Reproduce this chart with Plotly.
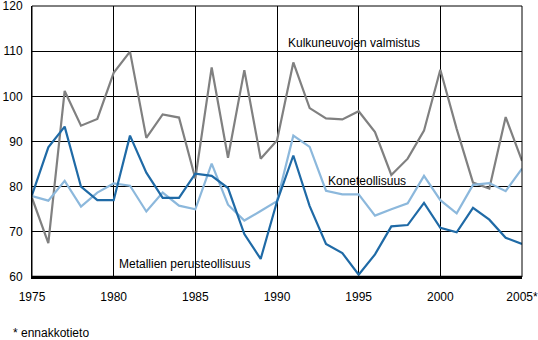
import plotly.graph_objects as go

years = list(range(1975, 2006))
kulkuneuvot = [77.5, 67.5, 101.2, 93.5, 95.0, 105.2, 109.9, 90.8, 96.0, 95.3,
               81.8, 106.4, 86.4, 105.8, 86.2, 90.2, 107.5, 97.4, 95.1, 94.9,
               96.7, 92.1, 82.6, 86.2, 92.4, 105.9, 92.8, 80.9, 79.6, 95.4, 85.7]
kone = [77.9, 76.9, 81.3, 75.6, 78.7, 80.7, 80.2, 74.5, 78.7, 75.8,
        75.0, 85.1, 76.0, 72.5, 74.6, 76.8, 91.3, 88.8, 79.1, 78.3,
        78.3, 73.6, 75.0, 76.3, 82.4, 77.0, 74.1, 80.4, 80.8, 79.0, 84.0]
metalli = [78.1, 88.7, 93.3, 80.0, 77.0, 77.0, 91.3, 83.1, 77.5, 77.5,
           82.9, 82.4, 79.7, 69.5, 64.0, 76.7, 86.9, 75.7, 67.3, 65.3,
           60.5, 65.0, 71.2, 71.5, 76.4, 70.9, 69.9, 75.3, 72.7, 68.7, 67.3]

xtick_vals = [1975, 1980, 1985, 1990, 1995, 2000, 2005]
xtick_text = ["1975", "1980", "1985", "1990", "1995", "2000", "2005*"]
ytick_vals = [60, 70, 80, 90, 100, 110, 120]

font = "Liberation Sans, Arial, sans-serif"

fig = go.Figure()
fig.add_trace(go.Scatter(x=years, y=kulkuneuvot, mode="lines",
                         line=dict(color="#808080", width=2.2), name="Kulkuneuvojen valmistus"))
fig.add_trace(go.Scatter(x=years, y=kone, mode="lines",
                         line=dict(color="#8cb8dc", width=2.2), name="Koneteollisuus"))
fig.add_trace(go.Scatter(x=years, y=metalli, mode="lines",
                         line=dict(color="#1f6aa6", width=2.2), name="Metallien perusteollisuus"))

annots = [
    dict(x=1994.7, y=111.8, text="Kulkuneuvojen valmistus"),
    dict(x=1995.5, y=81.2, text="Koneteollisuus"),
    dict(x=1984.35, y=62.9, text="Metallien perusteollisuus"),
]
for a in annots:
    fig.add_annotation(x=a["x"], y=a["y"], text=a["text"], showarrow=False,
                       xanchor="center", yanchor="middle",
                       font=dict(family=font, size=12, color="black"))

fig.add_annotation(x=(11 - 32) / (522 - 32), y=(277 - 333) / (277 - 6),
                   xref="paper", yref="paper", text="* ennakkotieto",
                   showarrow=False, xanchor="left", yanchor="middle",
                   font=dict(family=font, size=12, color="black"))

fig.update_layout(
    width=538, height=340,
    margin=dict(l=32, r=16, t=6, b=63, autoexpand=False),
    paper_bgcolor="white", plot_bgcolor="white",
    showlegend=False,
    font=dict(family=font, size=12, color="black"),
    xaxis=dict(range=[1975, 2005], tickvals=xtick_vals, ticktext=xtick_text,
               showgrid=True, gridcolor="black", gridwidth=1,
               showline=True, linecolor="black", linewidth=2, mirror=False,
               ticks="", ticklabelstandoff=8, zeroline=False, fixedrange=True,
               ticklabeloverflow="allow", automargin=False),
    yaxis=dict(range=[60, 120], tickvals=ytick_vals,
               showgrid=True, gridcolor="black", gridwidth=1,
               showline=True, linecolor="black", linewidth=1,
               ticks="", ticklabelstandoff=6, zeroline=False, fixedrange=True,
               ticklabeloverflow="allow", automargin=False),
    shapes=[dict(type="rect", xref="paper", yref="paper", x0=0, x1=1, y0=0, y1=1,
                 line=dict(color="black", width=1), layer="above"),
            dict(type="line", xref="paper", yref="paper", x0=0, x1=1, y0=0, y1=0,
                 line=dict(color="black", width=2.5), layer="above")],
)

fig.write_html("out.html")
